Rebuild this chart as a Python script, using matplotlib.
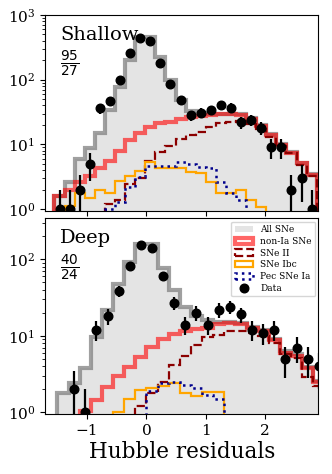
import numpy as np
import matplotlib
matplotlib.use("Agg")
import matplotlib.pyplot as plt

plt.rcParams["font.family"] = "serif"
plt.rcParams["mathtext.fontset"] = "dejavuserif"

# ---- Shallow fields: 26 bins of Hubble residual ----
edges_sh = np.linspace(-1.55, 2.87, 27)
all_sh   = [1.6, 2.6, 5.9, 8.7, 14.8, 34, 78, 201, 462, 462, 226, 99, 48,
            33, 31, 30, 30, 30, 29, 25.5, 19.8, 14.3, 10.1, 7.6, 5.2, 3.5]
nonia_sh = [1.6, 2.0, 2.6, 3.3, 4.3, 5.5, 8.0, 11.7, 15.1, 18.7, 21.1, 22.4, 25,
            26.2, 27.4, 28.4, 29, 29, 28.4, 24.4, 19.2, 13.9, 9.8, 7.4, 5.1, 3.4]
snii_sh  = [0, 0, 0, 0, 0, 1.2, 1.4, 2.45, 3.05, 5.6, 7.7, 9.4, 12,
            14.2, 15.5, 18.7, 21.5, 22.5, 23, 21, 17.5, 13, 9.4, 7.3, 4.8, 3.2]
snibc_sh = [0, 1.1, 1.75, 1.46, 1.97, 1.79, 2.74, 3.24, 3.9, 5.4, 4.26, 4.26, 4.26,
            3.78, 3.56, 2.65, 1.79, 1.79, 2.0, 1.38, 1.08, 0, 0, 0, 0, 0]
pec_sh   = [0, 0, 0, 0, 0, 1.02, 1.3, 2.2, 3.16, 4.6, 4.6, 4.6, 5.4,
            4.9, 4.4, 4.3, 2.65, 1.79, 1.38, 0, 0, 0, 0, 0, 0, 0]
data_sh  = [1, 1, 2, 5, 36, 47, 100, 255, 447, 392, 179, 87, 48,
            28, 31, 34, 41, 37, 22, 24, 18, 9, 9, 2, 3, 1]

# ---- Deep fields: 24 bins ----
edges_dp = np.linspace(-1.5, 3.0, 25)
all_dp   = [1.8, 2.4, 3.8, 9.5, 22, 48, 91, 158, 158, 78, 40, 24,
            18, 16, 15.2, 15, 14.5, 13.2, 11.8, 9.1, 6.3, 5.7, 3.9, 2.6]
nonia_dp = [0, 0, 1.05, 1.45, 2.15, 3.0, 3.9, 5.2, 7.2, 9.0, 10.5, 11.4,
            12.2, 12.8, 14.2, 14.6, 14.2, 12.8, 11.4, 8.9, 6.0, 5.5, 3.8, 2.5]
snii_dp  = [0, 0, 0, 0, 0, 0, 0, 1.2, 1.8, 2.5, 4.2, 5.5,
            7.6, 9.5, 10.3, 11.6, 11.4, 10.8, 9.8, 8.0, 5.7, 5.1, 2.9, 2.2]
snibc_dp = [0, 0, 0, 0, 0, 1.02, 1.5, 1.95, 2.1, 2.2, 2.4, 1.8,
            1.62, 1.85, 1.85, 0, 0, 0, 0, 0, 0, 0, 0, 0]
pec_dp   = [0, 0, 0, 0, 0, 0, 0, 0, 1.9, 2.4, 2.45, 2.3,
            2.05, 1.68, 1.48, 0, 0, 0, 0, 0, 0, 0, 0, 0]
data_dp  = [0, 2, 1, 12, 18, 38, 82, 154, 139, 61, 27, 14,
            20, 14, 22, 24, 19, 12, 11, 12, 5, 7, 5, 4]


def panel(ax, edges, tot, nonia, snii, snibc, pec, data, name, frac):
    c = 0.5 * (edges[1:] + edges[:-1])
    ax.set_yscale("log")
    ax.hist(c, bins=edges, weights=tot, histtype="bar", rwidth=1.0,
            color="lightgray", alpha=0.6, label="All SNe", zorder=1)
    ax.hist(c, bins=edges, weights=tot, histtype="step", color="gray",
            alpha=0.75, lw=3, zorder=2)
    ax.hist(c, bins=edges, weights=nonia, histtype="step", color="red",
            alpha=0.6, lw=3, label="non-Ia SNe", zorder=3)
    ax.hist(c, bins=edges, weights=snii, histtype="step", color="darkred",
            ls="--", lw=1.6, label="SNe II", zorder=4)
    ax.hist(c, bins=edges, weights=snibc, histtype="step", color="orange",
            lw=1.6, label="SNe Ibc", zorder=4)
    ax.hist(c, bins=edges, weights=pec, histtype="step", color="darkblue",
            ls=":", lw=1.8, label="Pec SNe Ia", zorder=5)
    d = np.asarray(data, float); m = d > 0
    ax.errorbar(c[m], d[m], yerr=np.sqrt(d[m]), fmt="none", ecolor="k",
                elinewidth=1.6, zorder=6)
    ax.plot(c[m], d[m], "o", color="k", ms=6.2, label="Data", zorder=7)
    ax.text(0.055, 0.945, name, transform=ax.transAxes, fontsize=14,
            ha="left", va="top")
    ax.text(0.055, 0.825, frac, transform=ax.transAxes, fontsize=14,
            ha="left", va="top")
    ax.set_xlim(-1.71, 2.9)
    ax.tick_params(labelsize=11)


fig, (a1, a2) = plt.subplots(2, 1, figsize=(3.32, 4.74), dpi=100, sharex=True)
fig.subplots_adjust(left=0.1355, right=0.9593, top=0.9684, bottom=0.126, hspace=0.039)

panel(a1, edges_sh, all_sh, nonia_sh, snii_sh, snibc_sh, pec_sh, data_sh,
      "Shallow", r"$\frac{\mathsf{95}}{\mathsf{27}}$")
panel(a2, edges_dp, all_dp, nonia_dp, snii_dp, snibc_dp, pec_dp, data_dp,
      "Deep", r"$\frac{\mathsf{40}}{\mathsf{24}}$")
a1.set_ylim(0.94, 1000)
a2.set_ylim(0.94, 343)
a2.set_xticks([-1, 0, 1, 2])
a2.set_xlabel("Hubble residuals", fontsize=15.5, labelpad=2)
a2.legend(loc="upper right", fontsize=6.5, labelspacing=0.3, borderaxespad=0.35)

fig.savefig("out.png", dpi=100)
